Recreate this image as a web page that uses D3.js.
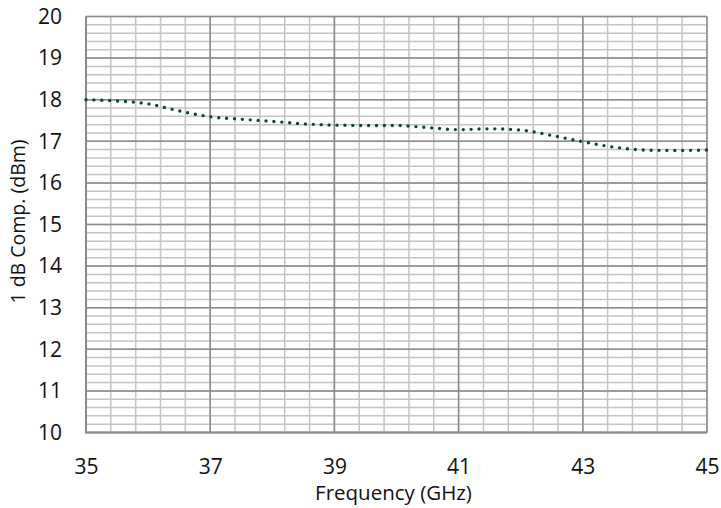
<!DOCTYPE html>
<html>
<head>
<meta charset="utf-8">
<script src="https://cdn.jsdelivr.net/npm/d3@7"></script>
<style>
  body { margin: 0; background: #fff; }
  svg text { font-family: "Open Sans", sans-serif; fill: #111; }
</style>
</head>
<body>
<div id="chart"></div>
<script>
// data
const freqGHz = [35, 35.5, 36, 36.5, 37, 37.5, 38, 38.5, 39, 39.5, 40,
                 40.5, 41, 41.5, 42, 42.5, 43, 43.5, 44, 44.5, 45];
const p1dB    = [18.00, 17.97, 17.90, 17.73, 17.59, 17.53, 17.48, 17.42, 17.39, 17.38, 17.38,
                 17.33, 17.28, 17.30, 17.27, 17.14, 16.99, 16.86, 16.79, 16.78, 16.79];
const xTicks = [35, 37, 39, 41, 43, 45];
const yTicks = [10, 11, 12, 13, 14, 15, 16, 17, 18, 19, 20];

const W = 721, H = 508;
const margin = { top: 16.5, right: 14, bottom: 75.5, left: 86 };
const width  = W - margin.left - margin.right;
const height = H - margin.top - margin.bottom;

const svg = d3.select("#chart").append("svg")
    .attr("width", W).attr("height", H);
const g = svg.append("g")
    .attr("transform", `translate(${margin.left},${margin.top})`);

const x = d3.scaleLinear().domain([35, 45]).range([0, width]);
const y = d3.scaleLinear().domain([10, 20]).range([height, 0]);

// minor grid: 0.4 GHz and 0.2 dB
const xMinor = d3.range(0, 26).map(i => 35 + i * 0.4);
const yMinor = d3.range(0, 51).map(i => 10 + i * 0.2);

g.selectAll(".hminor").data(yMinor).join("line")
    .attr("x1", 0).attr("x2", width)
    .attr("y1", d => y(d)).attr("y2", d => y(d))
    .attr("stroke", "#c4c4c4").attr("stroke-width", 1.5);
g.selectAll(".vminor").data(xMinor).join("line")
    .attr("y1", 0).attr("y2", height)
    .attr("x1", d => x(d)).attr("x2", d => x(d))
    .attr("stroke", "#c4c4c4").attr("stroke-width", 1.5);

// major grid
g.selectAll(".hmajor").data(yTicks).join("line")
    .attr("x1", 0).attr("x2", width)
    .attr("y1", d => y(d)).attr("y2", d => y(d))
    .attr("stroke", "#8a8a8a").attr("stroke-width", 1.5);
g.selectAll(".vmajor").data(xTicks).join("line")
    .attr("y1", 0).attr("y2", height)
    .attr("x1", d => x(d)).attr("x2", d => x(d))
    .attr("stroke", "#8a8a8a").attr("stroke-width", 1.5);

// axis border left + bottom
g.append("path")
    .attr("d", `M0,0V${height}H${width}`)
    .attr("fill", "none").attr("stroke", "#8a8a8a").attr("stroke-width", 2);

// tick labels
const xAxis = g.append("g")
    .attr("transform", `translate(0,${height})`)
    .call(d3.axisBottom(x).tickValues(xTicks).tickSize(0).tickPadding(27));
xAxis.select(".domain").remove();
xAxis.selectAll("text").attr("font-size", "21px").attr("fill", "#111")
    .style("font-family", "'Open Sans', sans-serif");

const yAxis = g.append("g")
    .call(d3.axisLeft(y).tickValues(yTicks).tickSize(0).tickPadding(24));
yAxis.select(".domain").remove();
yAxis.selectAll("text").attr("font-size", "21px").attr("fill", "#111")
    .style("font-family", "'Open Sans', sans-serif");

// axis titles
svg.append("text")
    .attr("x", margin.left + width / 2 - 3).attr("y", 500)
    .attr("text-anchor", "middle").attr("font-size", "20.5px")
    .text("Frequency (GHz)");

svg.append("text")
    .attr("transform", `translate(25,${margin.top + height / 2 - 3}) rotate(-90)`)
    .attr("text-anchor", "middle").attr("font-size", "19.5px")
    .text("1 dB Comp. (dBm)");

// dotted curve
const line = d3.line()
    .x((d, i) => x(freqGHz[i]))
    .y(d => y(d))
    .curve(d3.curveMonotoneX);

g.append("path")
    .datum(p1dB)
    .attr("d", line)
    .attr("fill", "none")
    .attr("stroke", "#0a4a28")
    .attr("stroke-width", 3.4)
    .attr("stroke-linecap", "round")
    .attr("stroke-dasharray", "0 7.9");
</script>
</body>
</html>
